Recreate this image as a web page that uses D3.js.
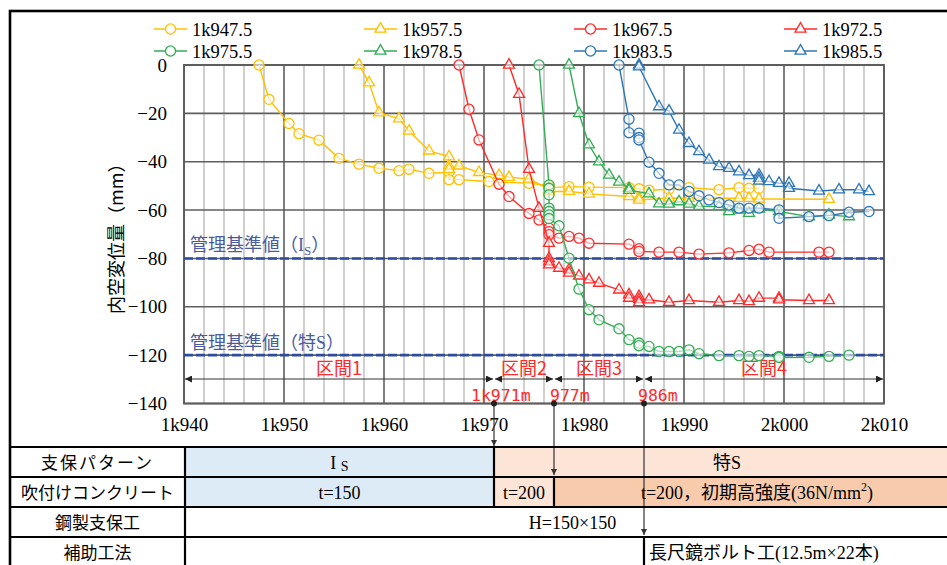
<!DOCTYPE html>
<html>
<head>
<meta charset="utf-8">
<script src="https://cdn.jsdelivr.net/npm/d3@7"></script>
<style>
  body { margin: 0; background: #fff; }
  svg { display: block; }
</style>
</head>
<body>
<div id="chart"></div>
<script>
// face position (m) vs convergence (mm), one array per measuring station
var s947 = [[1947.5,0],[1948.5,-14.2],[1950.5,-24.2],[1951.5,-28.4],[1953.5,-31.1],[1955.5,-38.6],[1957.5,-41],[1959.5,-42.7],[1961.5,-43.7],[1962.5,-43.1],[1964.5,-44.8],[1966.5,-44.4],[1966.5,-47.4],[1967.5,-47.4],[1970.5,-48.2],[1974.5,-48.9],[1976.5,-49.9],[1976.5,-50.7],[1978.5,-50.3],[1980.5,-50.5],[1984.5,-50.7],[1985.5,-51.2],[1986.5,-51.8],[1988.5,-51.4],[1990.5,-50.7],[1993.5,-51.6],[1995.5,-50.7],[1996.5,-51],[1997.5,-51]];
var s957 = [[1957.5,0],[1958.5,-7.3],[1959.5,-19.7],[1961.5,-22.2],[1962.5,-27.3],[1964.5,-35.5],[1966.5,-37.9],[1966.5,-41.7],[1966.5,-43.1],[1967.5,-41.7],[1969.5,-44.4],[1971.5,-45.6],[1972.5,-46.4],[1974.5,-47.1],[1976.5,-51.4],[1976.5,-52.3],[1978.5,-52.2],[1980.5,-53.3],[1984.5,-54.4],[1985.5,-55],[1985.5,-55.8],[1988.5,-55],[1990.5,-55.1],[1995.5,-55.1],[1996.5,-55.1],[1997.5,-55.4],[2004.5,-55.5]];
var s967 = [[1967.5,0],[1968.5,-18.3],[1969.5,-31],[1971.5,-49.3],[1972.5,-54.4],[1974.5,-61.4],[1975.5,-64.1],[1976.5,-67.5],[1976.5,-68.9],[1976.5,-70.2],[1977.5,-71.6],[1978.5,-70.9],[1979.5,-71.6],[1980.5,-73.7],[1984.5,-74.1],[1985.5,-76],[1985.5,-77.1],[1987.5,-77.4],[1989.5,-77.4],[1991.5,-78.2],[1994.5,-77.7],[1996.5,-76.7],[1997.5,-76.2],[1998.5,-77.4],[2003.5,-77.4],[2004.5,-77.4]];
var s972 = [[1972.5,0],[1973.5,-12.1],[1974.5,-43.1],[1975.5,-59.2],[1976.5,-73.7],[1976.5,-80],[1976.5,-81.3],[1976.5,-82.6],[1977.5,-84],[1978.5,-84.7],[1978.5,-86],[1979.5,-87.2],[1980.5,-88.8],[1981.5,-90.2],[1983.5,-93],[1984.5,-95],[1984.5,-96.4],[1985.5,-95.7],[1985.5,-97],[1985.5,-98.2],[1986.5,-97.1],[1988.5,-98.1],[1990.5,-97.4],[1993.5,-98.1],[1995.5,-97.4],[1996.5,-97.8],[1997.5,-96.4],[1999.5,-96.4],[1999.5,-97.1],[2002.5,-97.4],[2004.5,-97.4]];
var s975 = [[1975.5,0],[1976.5,-49.6],[1976.5,-51],[1976.5,-53.7],[1976.5,-59.2],[1976.5,-60.6],[1976.5,-62],[1976.5,-63.5],[1977.5,-66.5],[1978.5,-79.9],[1979.5,-92.7],[1980.5,-101.2],[1981.5,-105.4],[1983.5,-109.1],[1984.5,-113.6],[1985.5,-115],[1985.5,-116.1],[1986.5,-116.4],[1987.5,-118.5],[1988.5,-118.5],[1989.5,-118.5],[1990.5,-117.8],[1991.5,-119.4],[1993.5,-120.2],[1995.5,-120.2],[1996.5,-120.5],[1997.5,-120.2],[1999.5,-120.5],[1999.5,-121],[2002.5,-120.9],[2004.5,-120.5],[2006.5,-120]];
var s978 = [[1978.5,0],[1979.5,-20],[1980.5,-33],[1981.5,-40],[1982.5,-45.5],[1983.5,-48.4],[1984.5,-51],[1984.5,-51.8],[1986.5,-53.2],[1987.5,-57.4],[1988.5,-57.5],[1989.5,-56.5],[1990.5,-57.5],[1991.5,-58.4],[1993.5,-58.5],[1994.5,-60.6],[1995.5,-59.9],[1996.5,-61.3],[1997.5,-59.5],[1999.5,-60.6],[2002.5,-62.7],[2004.5,-62],[2006.5,-62.7]];
var s983 = [[1983.5,0],[1984.5,-22.4],[1984.5,-28],[1985.5,-28.2],[1985.5,-30],[1985.5,-31],[1986.5,-40.2],[1987.5,-44.8],[1988.5,-49.6],[1989.5,-49.6],[1990.5,-52.3],[1991.5,-54.1],[1992.5,-55.8],[1993.5,-56.9],[1994.5,-57.9],[1995.5,-59.2],[1996.5,-59.2],[1997.5,-59.2],[1999.5,-59.9],[1999.5,-63.4],[2002.5,-62.7],[2004.5,-62.3],[2006.5,-60.9],[2008.5,-60.6]];
var s985 = [[1985.5,0],[1985.5,-0.7],[1987.5,-17.2],[1988.5,-19],[1989.5,-26.9],[1990.5,-32.4],[1991.5,-35.8],[1992.5,-39.3],[1993.5,-42],[1994.5,-42.7],[1995.5,-44.1],[1996.5,-45.7],[1997.5,-45.5],[1997.5,-46.8],[1997.5,-48],[1998.5,-48.2],[1999.5,-48.9],[2000.5,-48.9],[2000.5,-51],[2003.5,-52.1],[2005.5,-51.6],[2007.5,-51.6],[2008.5,-52.3]];

var seriesNames = ["1k947.5", "1k957.5", "1k967.5", "1k972.5", "1k975.5", "1k978.5", "1k983.5", "1k985.5"];
var seriesData = [s947, s957, s967, s972, s975, s978, s983, s985];
var seriesColors = ["#FFC000", "#FFC000", "#FF2A2A", "#FF2A2A", "#33AD55", "#33AD55", "#2E75B6", "#2E75B6"];
var seriesMarks = ["circle", "triangle", "circle", "triangle", "circle", "triangle", "circle", "triangle"];

var xTicks = [1940, 1950, 1960, 1970, 1980, 1990, 2000, 2010];
var xTickLabels = ["1k940", "1k950", "1k960", "1k970", "1k980", "1k990", "2k000", "2k010"];
var yTicks = [0, -20, -40, -60, -80, -100, -120, -140];

// control levels
var limitValues = [-80, -120];
var limitLabels = ["管理基準値（I", "管理基準値（特S）"];

// sections along the tunnel
var sectionBounds = [1940, 1971, 1977, 1986, 2010];
var sectionLabels = ["区間1", "区間2", "区間3", "区間4"];
var changePoints = [1971, 1977, 1986];
var changeLabels = ["1k971m", "977m", "986m"];

var svgWidth = 947;
var svgHeight = 565;
var serif = "'Liberation Serif', 'Times New Roman', 'Noto Sans CJK JP', serif";
var jp = "'Noto Sans CJK JP', sans-serif";

var svg = d3.select("#chart").append("svg")
  .attr("width", svgWidth)
  .attr("height", svgHeight);

var defs = svg.append("defs");
defs.append("marker")
  .attr("id", "arr")
  .attr("viewBox", "0 0 10 10")
  .attr("refX", 10).attr("refY", 5)
  .attr("markerWidth", 10).attr("markerHeight", 7)
  .attr("markerUnits", "userSpaceOnUse")
  .attr("orient", "auto-start-reverse")
  .append("path").attr("d", "M0,0L10,5L0,10Z").attr("fill", "#222");
defs.append("marker")
  .attr("id", "arrDown")
  .attr("viewBox", "0 0 10 10")
  .attr("refX", 10).attr("refY", 5)
  .attr("markerWidth", 9).attr("markerHeight", 6)
  .attr("markerUnits", "userSpaceOnUse")
  .attr("orient", "auto")
  .append("path").attr("d", "M0,0L10,5L0,10Z").attr("fill", "#333");

var x = d3.scaleLinear().domain([1940, 2010]).range([184, 884]);
var y = d3.scaleLinear().domain([-140, 0]).range([403.5, 65]);

// grid
var grid = svg.append("g");
grid.selectAll(".minor")
  .data(d3.range(1942, 2010, 2).filter(function(d) { return d % 10 !== 0; }))
  .enter().append("line")
  .attr("x1", function(d) { return x(d); }).attr("x2", function(d) { return x(d); })
  .attr("y1", y(0)).attr("y2", y(-140))
  .attr("stroke", "#C4C4C4").attr("stroke-width", 1.6);
grid.selectAll(".majorx")
  .data(xTicks)
  .enter().append("line")
  .attr("x1", function(d) { return x(d); }).attr("x2", function(d) { return x(d); })
  .attr("y1", y(0)).attr("y2", y(-140))
  .attr("stroke", "#5E5E5E").attr("stroke-width", 1.6);
grid.selectAll(".majory")
  .data(yTicks)
  .enter().append("line")
  .attr("x1", x(1940)).attr("x2", x(2010))
  .attr("y1", function(d) { return y(d); }).attr("y2", function(d) { return y(d); })
  .attr("stroke", "#5E5E5E").attr("stroke-width", 1.6);
grid.append("rect")
  .attr("x", x(1940)).attr("y", y(0))
  .attr("width", x(2010) - x(1940)).attr("height", y(-140) - y(0))
  .attr("fill", "none").attr("stroke", "#5E5E5E").attr("stroke-width", 2);

// axes (labels only)
var yAxis = svg.append("g")
  .attr("transform", "translate(" + x(1940) + ",0)")
  .call(d3.axisLeft(y).tickValues(yTicks).tickSize(0).tickPadding(17).tickFormat(d3.format("d")));
yAxis.select(".domain").remove();
yAxis.selectAll("text").attr("font-family", serif).attr("font-size", 19).attr("fill", "#000");

var xAxis = svg.append("g")
  .attr("transform", "translate(0," + y(-140) + ")")
  .call(d3.axisBottom(x).tickValues(xTicks).tickSize(0).tickPadding(14)
    .tickFormat(function(d, i) { return xTickLabels[i]; }));
xAxis.select(".domain").remove();
xAxis.selectAll("text").attr("font-family", serif).attr("font-size", 19).attr("fill", "#000");

svg.append("text")
  .attr("transform", "translate(123," + (y(-70)) + ") rotate(-90)")
  .attr("text-anchor", "middle")
  .attr("font-family", jp).attr("font-size", 18).attr("fill", "#000")
  .text("内空変位量（mm）");

// control level lines
svg.selectAll(".limit")
  .data(limitValues)
  .enter().append("line")
  .attr("x1", x(1940)).attr("x2", x(2010))
  .attr("y1", function(d) { return y(d); }).attr("y2", function(d) { return y(d); })
  .attr("stroke", "#2E4C9E").attr("stroke-width", 2.6)
  .attr("stroke-dasharray", "9,3");

var lim1 = svg.append("text")
  .attr("x", 190).attr("y", y(-80) - 7)
  .attr("font-family", serif).attr("font-size", 18).attr("fill", "#4A5C9E");
lim1.append("tspan").text(limitLabels[0]);
lim1.append("tspan").attr("font-size", 13).attr("dy", 4).text("S");
lim1.append("tspan").attr("dy", -4).text("）");
svg.append("text")
  .attr("x", 190).attr("y", y(-120) - 6)
  .attr("font-family", serif).attr("font-size", 18).attr("fill", "#4A5C9E")
  .text(limitLabels[1]);

// sections
var secY = 379;
sectionLabels.forEach(function(lab, i) {
  var x1 = x(sectionBounds[i]), x2 = x(sectionBounds[i + 1]);
  svg.append("line")
    .attr("x1", x1 + 1).attr("x2", x2 - 1)
    .attr("y1", secY).attr("y2", secY)
    .attr("stroke", "#333").attr("stroke-width", 1)
    .attr("marker-start", "url(#arr)").attr("marker-end", "url(#arr)");
  svg.append("text")
    .attr("x", (x1 + x2) / 2).attr("y", secY - 4)
    .attr("text-anchor", "middle")
    .attr("font-family", jp).attr("font-size", 18).attr("fill", "#FF2A2A")
    .text(lab);
});

var changeOffsets = [-23, -4, -6];
changePoints.forEach(function(p, i) {
  svg.append("text")
    .attr("x", x(p) + changeOffsets[i]).attr("y", 401)
    .attr("font-family", "'DejaVu Sans Mono', monospace").attr("font-size", 16.5)
    .attr("fill", "#FF2A2A")
    .text(changeLabels[i]);
});

// series
var line = d3.line()
  .x(function(d) { return x(d[0]); })
  .y(function(d) { return y(d[1]); });
var circleSym = d3.symbol().type(d3.symbolCircle).size(80);
var triSym = d3.symbol().type(d3.symbolTriangle).size(52);

seriesData.forEach(function(data, i) {
  var g = svg.append("g");
  g.append("path")
    .datum(data)
    .attr("d", line)
    .attr("fill", "none")
    .attr("stroke", seriesColors[i])
    .attr("stroke-width", 1.4);
  g.selectAll("path.m")
    .data(data)
    .enter().append("path")
    .attr("class", "m")
    .attr("d", seriesMarks[i] === "circle" ? circleSym : triSym)
    .attr("transform", function(d) { return "translate(" + x(d[0]) + "," + y(d[1]) + ")"; })
    .attr("fill", "#fff").attr("fill-opacity", 0.6)
    .attr("stroke", seriesColors[i]).attr("stroke-width", 1.3);
});

// legend
var legendCols = [154, 364, 574, 784];
var legendRows = [29, 51];
seriesNames.forEach(function(name, i) {
  var lx = legendCols[i % 4], ly = legendRows[Math.floor(i / 4)];
  var g = svg.append("g");
  g.append("line")
    .attr("x1", lx).attr("x2", lx + 33)
    .attr("y1", ly).attr("y2", ly)
    .attr("stroke", seriesColors[i]).attr("stroke-width", 1.6);
  g.append("path")
    .attr("d", seriesMarks[i] === "circle" ? circleSym : triSym)
    .attr("transform", "translate(" + (lx + 16.5) + "," + ly + ")")
    .attr("fill", "#fff")
    .attr("stroke", seriesColors[i]).attr("stroke-width", 1.3);
  g.append("text")
    .attr("x", lx + 38).attr("y", ly + 6.5)
    .attr("font-family", serif).attr("font-size", 18.5).attr("fill", "#000")
    .text(name);
});

// table under the chart
var tableLeft = 10, labelRight = 185, tableRight = 960;
var rowTops = [447, 477, 507, 537, 567];
var rowLabels = ["支保パターン", "吹付けコンクリート", "鋼製支保工", "補助工法"];
var blue = "#DDEBF7", peach = "#FCE4D6", peach2 = "#F8CBAD";

var cells = [
  [0, x(1971), labelRight, blue],
  [0, tableRight, x(1971), peach],
  [1, x(1971), labelRight, blue],
  [1, x(1977), x(1971), peach],
  [1, tableRight, x(1977), peach2]
];
cells.forEach(function(c) {
  svg.append("rect")
    .attr("x", c[2]).attr("y", rowTops[c[0]])
    .attr("width", c[1] - c[2]).attr("height", rowTops[c[0] + 1] - rowTops[c[0]])
    .attr("fill", c[3]);
});

// change-point lines running down into the table
var dropEnds = [rowTops[0] - 1, rowTops[1] - 2, rowTops[3] - 2];
changePoints.forEach(function(p, i) {
  svg.append("line")
    .attr("x1", x(p)).attr("x2", x(p))
    .attr("y1", y(-140)).attr("y2", dropEnds[i])
    .attr("stroke", "#333").attr("stroke-width", 1.2)
    .attr("marker-end", "url(#arrDown)");
  svg.append("circle")
    .attr("cx", x(p)).attr("cy", y(-140)).attr("r", 3)
    .attr("fill", "#222");
});

var tableLines = svg.append("g").attr("stroke", "#000").attr("stroke-width", 2.2);
rowTops.slice(0, 4).forEach(function(t) {
  tableLines.append("line").attr("x1", tableLeft).attr("x2", tableRight).attr("y1", t).attr("y2", t);
});
tableLines.append("line").attr("x1", labelRight).attr("x2", labelRight).attr("y1", rowTops[0]).attr("y2", svgHeight);
tableLines.append("line").attr("x1", x(1971)).attr("x2", x(1971)).attr("y1", rowTops[0]).attr("y2", rowTops[2]);
tableLines.append("line").attr("x1", x(1977)).attr("x2", x(1977)).attr("y1", rowTops[1]).attr("y2", rowTops[2]);
tableLines.append("line").attr("x1", x(1986)).attr("x2", x(1986)).attr("y1", rowTops[3]).attr("y2", svgHeight);

rowLabels.forEach(function(lab, i) {
  svg.append("text")
    .attr("x", (tableLeft + labelRight) / 2).attr("y", rowTops[i] + 22)
    .attr("text-anchor", "middle")
    .attr("font-family", jp).attr("font-size", 17).attr("fill", "#000")
    .attr("letter-spacing", i === 0 ? 2 : 0)
    .text(lab);
});

function cellText(cx, row, anchor) {
  return svg.append("text")
    .attr("x", cx).attr("y", rowTops[row] + 22)
    .attr("text-anchor", anchor || "middle")
    .attr("font-family", serif).attr("font-size", 18).attr("fill", "#000");
}
var isText = cellText((labelRight + x(1971)) / 2, 0);
isText.append("tspan").text("I ");
isText.append("tspan").attr("font-size", 14).attr("dy", 2).text("S");
cellText((x(1971) + tableRight) / 2, 0).text("特S");
cellText((labelRight + x(1971)) / 2, 1).text("t=150");
cellText((x(1971) + x(1977)) / 2, 1).text("t=200");
var hiText = cellText((x(1977) + tableRight) / 2, 1);
hiText.append("tspan").text("t=200，初期高強度(36N/mm");
hiText.append("tspan").attr("font-size", 12).attr("dy", -8).text("2");
hiText.append("tspan").attr("dy", 8).text(")");
cellText((labelRight + tableRight) / 2, 2).text("H=150×150");
cellText(x(1986) + 5, 3, "start").text("長尺鏡ボルト工(12.5m×22本)");

// outer frame
svg.append("rect")
  .attr("x", 10).attr("y", 11)
  .attr("width", 960).attr("height", 600)
  .attr("fill", "none").attr("stroke", "#000").attr("stroke-width", 2.6);
</script>
</body>
</html>
